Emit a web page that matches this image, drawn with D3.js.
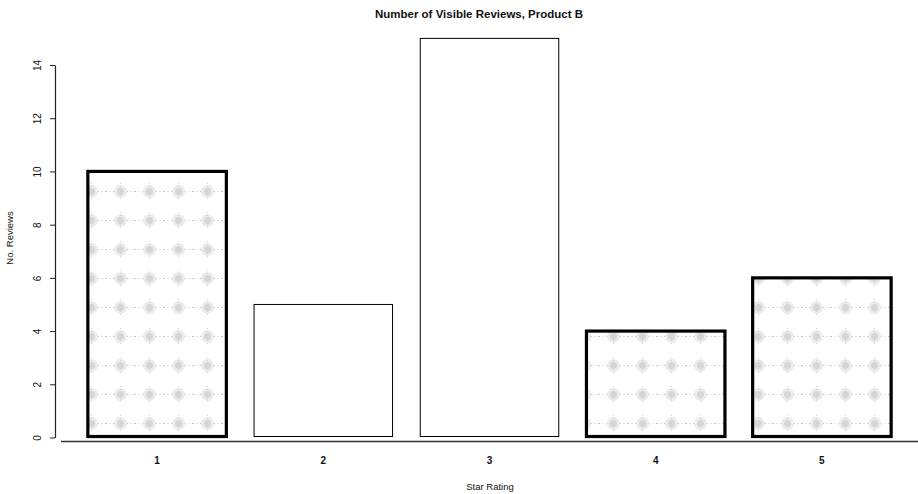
<!DOCTYPE html>
<html>
<head>
<meta charset="utf-8">
<script src="https://cdn.jsdelivr.net/npm/d3@7"></script>
<style>
  body { margin: 0; background: #fff; }
  text { font-family: "Liberation Sans", Arial, sans-serif; fill: #111; }
</style>
</head>
<body>
<div id="chart"></div>
<script>
// Star rating counts, product B
var ratings = ["1", "2", "3", "4", "5"];
var reviewCounts = [10, 5, 15, 4, 6];
var shaded = ["1", "4", "5"];          // bars drawn with heavy border + texture
var yTicks = [0, 2, 4, 6, 8, 10, 12, 14];

var width = 918;
var height = 494;

var svg = d3.select("#chart")
    .append("svg")
    .attr("width", width)
    .attr("height", height);

// texture used on the outlined bars (scanned dot screen look)
var defs = svg.append("defs");
var pat = defs.append("pattern")
    .attr("id", "dots")
    .attr("patternUnits", "userSpaceOnUse")
    .attr("width", 29)
    .attr("height", 29)
    .attr("x", 19)
    .attr("y", 3);
pat.append("line")
    .attr("x1", 0).attr("x2", 29)
    .attr("y1", 14.5).attr("y2", 14.5)
    .attr("stroke", "#c4c4c4")
    .attr("stroke-width", 1)
    .attr("stroke-dasharray", "1,2.5");
pat.append("circle")
    .attr("cx", 14.5).attr("cy", 14.5).attr("r", 6.5)
    .attr("fill", "#ebebeb");
pat.append("circle")
    .attr("cx", 14.5).attr("cy", 14.5).attr("r", 3.5)
    .attr("fill", "#d6d6d6");
pat.append("line")
    .attr("x1", 14.5).attr("x2", 14.5)
    .attr("y1", 6).attr("y2", 23)
    .attr("stroke", "#d0d0d0")
    .attr("stroke-width", 1)
    .attr("stroke-dasharray", "1,2");

// Scales
// ==============================
var x = d3.scaleBand()
    .domain(ratings)
    .range([74, 905])
    .paddingInner(0.2 / 1.2)
    .paddingOuter(0.1 / 1.2);

var y = d3.scaleLinear()
    .domain([0, 14])
    .range([437.5, 65]);

// Bars
// ==============================
var data = ratings.map(function(r, i) {
    return { rating: r, count: reviewCounts[i] };
});

svg.selectAll("rect.bar")
    .data(data)
    .enter()
    .append("rect")
    .attr("class", "bar")
    .attr("x", function(d) { return x(d.rating); })
    .attr("width", x.bandwidth())
    .attr("y", function(d) { return y(d.count); })
    .attr("height", function(d) { return y(0) - y(d.count) - 1; })
    .attr("fill", function(d) {
        return shaded.indexOf(d.rating) >= 0 ? "url(#dots)" : "#fff";
    })
    .attr("stroke", "#000")
    .attr("stroke-width", function(d) {
        return shaded.indexOf(d.rating) >= 0 ? 3.2 : 1;
    });

// Y axis
// ==============================
var yAxis = svg.append("g")
    .attr("transform", "translate(55,0)")
    .call(d3.axisLeft(y).tickValues(yTicks).tickSize(5).tickSizeOuter(0));

yAxis.select(".domain").attr("stroke", "#222").attr("stroke-width", 1.2);
yAxis.selectAll(".tick line").attr("stroke", "#222");
yAxis.selectAll(".tick text")
    .attr("x", null)
    .attr("dy", null)
    .attr("transform", "translate(-17,0) rotate(-90)")
    .attr("text-anchor", "middle")
    .attr("dominant-baseline", "middle")
    .style("font-size", "10px")
    .style("font-family", "'Liberation Sans', Arial, sans-serif");

// X axis
// ==============================
svg.append("line")
    .attr("x1", 61).attr("x2", 918)
    .attr("y1", 441.5).attr("y2", 441.5)
    .attr("stroke", "#333")
    .attr("stroke-width", 1.5);

var xAxis = svg.append("g")
    .attr("transform", "translate(0,441.5)")
    .call(d3.axisBottom(x).tickSize(0));

xAxis.select(".domain").remove();
xAxis.selectAll(".tick text")
    .attr("y", 19)
    .attr("dy", "0.35em")
    .style("font-size", "10px")
    .style("font-weight", "bold")
    .style("font-family", "'Liberation Sans', Arial, sans-serif");

// Labels
// ==============================
svg.append("text")
    .attr("x", 479)
    .attr("y", 15)
    .attr("text-anchor", "middle")
    .attr("dominant-baseline", "middle")
    .style("font-size", "11.5px")
    .style("font-weight", "bold")
    .text("Number of Visible Reviews, Product B");

svg.append("text")
    .attr("x", 490)
    .attr("y", 487)
    .attr("text-anchor", "middle")
    .attr("dominant-baseline", "middle")
    .style("font-size", "9.5px")
    .text("Star Rating");

svg.append("text")
    .attr("transform", "translate(10,238) rotate(-90)")
    .attr("text-anchor", "middle")
    .attr("dominant-baseline", "middle")
    .style("font-size", "9.5px")
    .text("No. Reviews");
</script>
</body>
</html>
